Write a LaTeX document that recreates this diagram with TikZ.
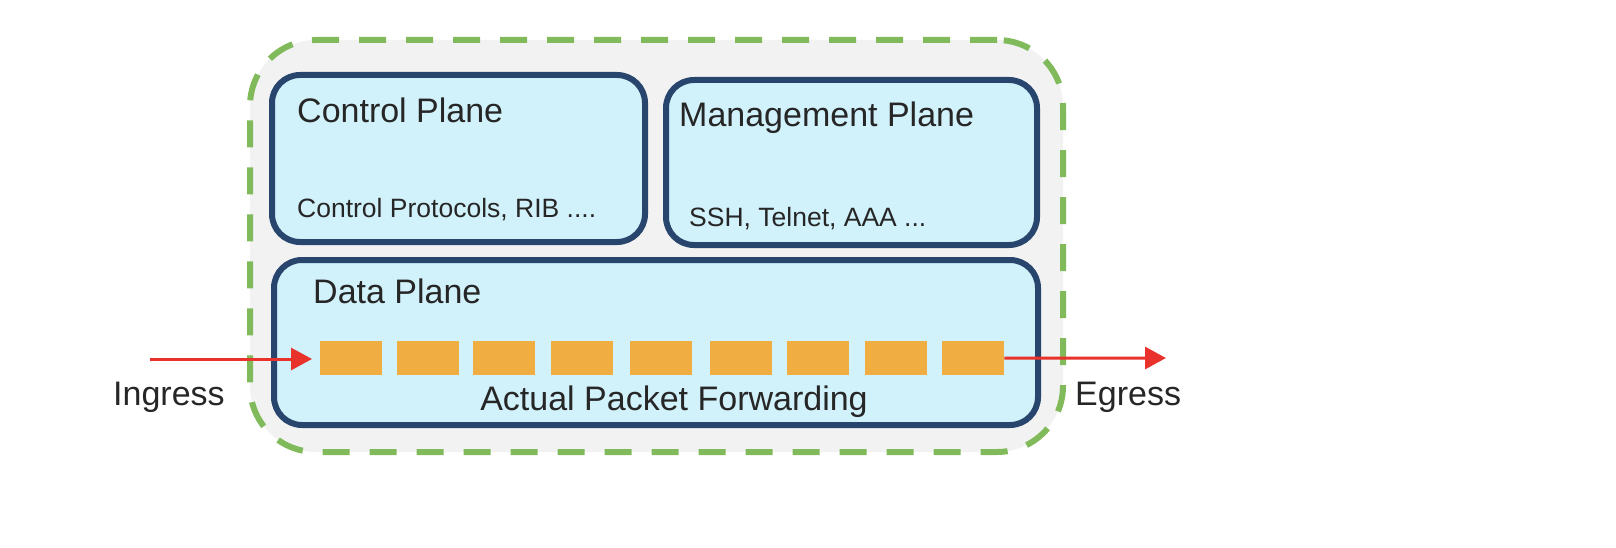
\documentclass[tikz,border=0pt]{standalone}
\usepackage{fontspec}
\setmainfont{Liberation Sans}
\usetikzlibrary{arrows.meta}
\definecolor{boxfill}{HTML}{D1F1FB}
\definecolor{boxline}{HTML}{27456D}
\definecolor{greendash}{HTML}{80BA5A}
\definecolor{bggray}{HTML}{F2F2F2}
\definecolor{pkt}{HTML}{F0AD41}
\definecolor{arrowred}{HTML}{E8322B}
\definecolor{txt}{HTML}{262626}
\tikzset{
  plane/.style={draw=boxline, fill=boxfill, line width=6pt, rounded corners=28pt, inner sep=0pt, outer sep=0pt},
  outerbox/.style={draw=greendash, fill=bggray, line width=6pt, dash pattern=on 27pt off 20pt, rounded corners=66pt, inner sep=0pt},
  packet/.style={fill=pkt, draw=none, minimum width=62pt, minimum height=34pt, inner sep=0pt},
  head/.style={text=txt, font=\fontsize{34}{40}\selectfont, inner sep=0pt, anchor=base west},
  sub/.style={text=txt, font=\fontsize{26.5}{32}\selectfont, inner sep=0pt, anchor=base west},
  flow/.style={draw=arrowred, line width=3pt, -{Triangle[length=21pt,width=22pt]}}
}
\begin{document}
\begin{tikzpicture}[x=1pt,y=-1pt]
\useasboundingbox (0,0) rectangle (1616,548);
\node[outerbox, minimum width=813pt, minimum height=412pt] (outer) at (656.5,246) {};
\node[plane, minimum width=373pt, minimum height=167pt] (cp) at (458.5,158.5) {};
\node[plane, minimum width=371pt, minimum height=165pt] (mp) at (851.5,162.5) {};
\node[plane, minimum width=764pt, minimum height=165pt] (dp) at (656,342.5) {};
\node[head] (cpt) at (297,123) {Control Plane};
\node[sub] (cps) at (297,218) {Control Protocols, RIB ....};
\node[head] (mpt) at (679,127) {Management Plane};
\node[sub] (mps) at (689,226) {SSH, Telnet, AAA ...};
\node[head] (dpt) at (313,303) {Data Plane};
\node[head, anchor=base] (apf) at (674,410) {Actual Packet Forwarding};
\foreach \i/\x in {1/320,2/397,3/473,4/551,5/630,6/710,7/787,8/865,9/942}{
  \node[packet, anchor=north west] (s\i) at (\x,341) {};
}
\node[head] (ing) at (113,405) {Ingress};
\node[head] (egr) at (1075,405) {Egress};
\coordinate (ingstart) at (150,359);
\coordinate (egend) at (1166,358);
\draw[flow, shorten >=8pt] (ingstart) -- (ingstart -| s1.west);
\draw[flow] (s9.east) -- (egend);
\end{tikzpicture}
\end{document}
